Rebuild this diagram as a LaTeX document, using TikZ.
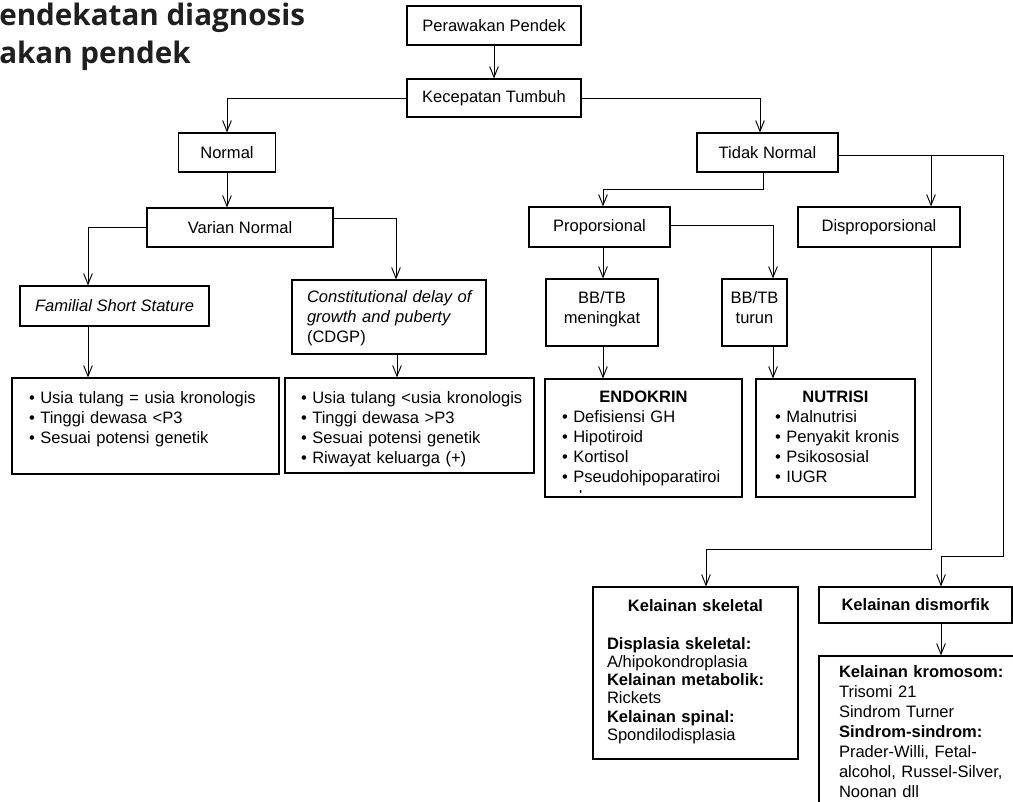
\documentclass[tikz,border=0pt]{standalone}
\usepackage{fontspec}
\setmainfont{Liberation Sans}
\newfontfamily\titlefont{Open Sans}
\usetikzlibrary{arrows.meta}
\usetikzlibrary{calc}

\newcommand{\butir}[1]{\mbox{\textbullet~#1}}

\tikzset{
  box/.style={draw,rectangle,line width=0.9pt,inner sep=0pt,font=\fontsize{12.4}{15}\selectfont},
  arr/.style={-{Straight Barb[length=8pt,width=6.5pt]},line width=0.7pt}
}

\begin{document}
\begin{tikzpicture}[x=0.75pt,y=-0.75pt]
\useasboundingbox (0,0) rectangle (1013,802);
\clip (0,0) rectangle (1013,802);

% judul
\node[anchor=base west,inner sep=0pt,font=\titlefont\bfseries\fontsize{22.2}{26}\selectfont,text=black!88] (judul1) at (-1,26) {endekatan diagnosis};
\node[anchor=base west,inner sep=0pt,font=\titlefont\bfseries\fontsize{22.2}{26}\selectfont,text=black!88] (judul2) at (-1,63.5) {akan pendek};

% kotak
\node[box,minimum width=130.5pt,minimum height=29.25pt] (per) at (494,25.5) {Perawakan Pendek};
\node[box,minimum width=130.5pt,minimum height=28.5pt] (kec) at (494,98) {Kecepatan Tumbuh};
\node[box,minimum width=72.75pt,minimum height=29.25pt] (nor) at (227,152.5) {Normal};
\node[box,minimum width=139.5pt,minimum height=29.25pt] (var) at (240,227.5) {Varian Normal};
\node[box,minimum width=141.75pt,minimum height=30pt] (fam) at (114.5,306) {\itshape Familial Short Stature};
\node[box,inner xsep=11.25pt,text width=123pt,text height=16.9pt,text depth=38.6pt,align=left] (cdgp) at (389,317)
  {\mbox{\itshape Constitutional delay of}\\\mbox{\itshape growth and puberty}\\(CDGP)};
\node[box,inner xsep=12.75pt,text width=174.75pt,text height=19pt,text depth=53pt,align=left] (us1) at (145.5,426)
  {\butir{Usia tulang = usia kronologis}\\\butir{Tinggi dewasa <P3}\\\butir{Sesuai potensi genetik}};
\node[box,inner xsep=12pt,text width=162.75pt,text height=19pt,text depth=52.3pt,align=left] (us2) at (409.5,425.5)
  {\butir{Usia tulang <usia kronologis}\\\butir{Tinggi dewasa >P3}\\\butir{Sesuai potensi genetik}\\\butir{Riwayat keluarga (+)}};

\node[box,minimum width=105.75pt,minimum height=29.25pt] (tdk) at (767.5,152.5) {Tidak Normal};
\node[box,minimum width=105.75pt,minimum height=30pt] (prop) at (599.5,227) {Proporsional};
\node[box,minimum width=121.5pt,minimum height=30pt] (disp) at (879,227) {Disproporsional};
\node[box,inner xsep=8.25pt,text width=67.5pt,text height=18.2pt,text depth=32pt,align=center] (bbn) at (602,312.5) {BB/TB\\meningkat};
\node[box,inner xsep=3.75pt,text width=41.25pt,text height=18.2pt,text depth=32pt,align=center] (bbt) at (754.5,312.5) {BB/TB\\turun};
\node[box,inner xsep=12.75pt,text width=122.25pt,text height=17.5pt,text depth=71pt,align=left] (endo) at (643.5,438)
  {\makebox[\linewidth]{\bfseries ENDOKRIN}\\\butir{Defisiensi GH}\\\butir{Hipotiroid}\\\butir{Kortisol}\\\butir{Pseudohipoparatiroi}};
\begin{scope}
\clip (endo.north west) rectangle ($(endo.south east)+(0,-5)$);
\node[anchor=base west,inner sep=0pt,font=\fontsize{12.4}{15}\selectfont] (endod) at (573,502.5) {d};
\end{scope}
\node[box,inner xsep=14.25pt,text width=90.75pt,text height=17.5pt,text depth=71pt,align=left] (nutr) at (835.5,438)
  {\makebox[\linewidth]{\bfseries NUTRISI}\\\butir{Malnutrisi}\\\butir{Penyakit kronis}\\\butir{Psikososial}\\\butir{IUGR}};

\node[box,inner xsep=10.5pt,text width=132.75pt,text height=18pt,text depth=111pt,align=left,font=\fontsize{12.4}{13.7}\selectfont] (skel) at (695.5,673)
  {\makebox[\linewidth]{\bfseries Kelainan skeletal}\\[14.8pt]\textbf{Displasia skeletal:}\\A/hipokondroplasia\\\textbf{Kelainan metabolik:}\\Rickets\\\textbf{Kelainan spinal:}\\Spondilodisplasia};
\node[box,minimum width=144.75pt,minimum height=27pt] (dism) at (915.5,605) {\bfseries Kelainan dismorfik};
\node[box,inner xsep=15pt,text width=142.5pt,text height=16.3pt,text depth=96.95pt,align=left] (krom) at (934,731.5)
  {\textbf{Kelainan kromosom:}\\Trisomi 21\\Sindrom Turner\\\textbf{Sindrom-sindrom:}\\Prader-Willi, Fetal-\\alcohol, Russel-Silver,\\Noonan dll};

% panah
\draw[arr] (per.south) -- (kec.north);
\draw[arr] (kec.west) -| (nor.north);
\draw[arr] (kec.east) -| ($(tdk.north)+(-7.5,0)$);
\draw[arr] (nor.south) -- ($(var.north)+(-13,0)$);
\draw[arr] (var.west) -| ($(fam.north)+(-26.5,0)$);
\draw[arr] ($(var.east)+(0,-9)$) -| ($(cdgp.north)+(7,0)$);
\draw[arr] ($(fam.south)+(-26.5,0)$) -- ($(us1.north)+(-57.5,0)$);
\draw[arr] ($(cdgp.south)+(8,0)$) -- ($(us2.north)+(-12.5,0)$);
\draw[arr] ($(tdk.south)+(-4.5,0)$) -- ++(0,17) -| ($(prop.north)+(3.5,0)$);
\draw[arr] ($(tdk.east)+(0,2.5)$) -| ($(disp.north)+(52,0)$);
\draw[arr] ($(tdk.east)+(0,2.5)$) -| ($(dism.north)+(87.5,-30)$) -| ($(dism.north)+(25.5,0)$);
\draw[arr] ($(prop.east)+(0,-2)$) -| ($(bbt.north)+(18.5,0)$);
\draw[arr] ($(prop.south)+(3.5,0)$) -- ($(bbn.north)+(1,0)$);
\draw[arr] ($(bbn.south)+(1,0)$) -- ($(endo.north)+(-40.5,0)$);
\draw[arr] ($(bbt.south)+(18.5,0)$) -- ($(nutr.north)+(-62.5,0)$);
\draw[arr] ($(disp.south)+(52,0)$) |- ($(skel.north)+(10.5,-37)$) -- ($(skel.north)+(10.5,0)$);
\draw[arr] ($(dism.south)+(25.5,0)$) -- ($(krom.north)+(7,0)$);

\end{tikzpicture}
\end{document}
